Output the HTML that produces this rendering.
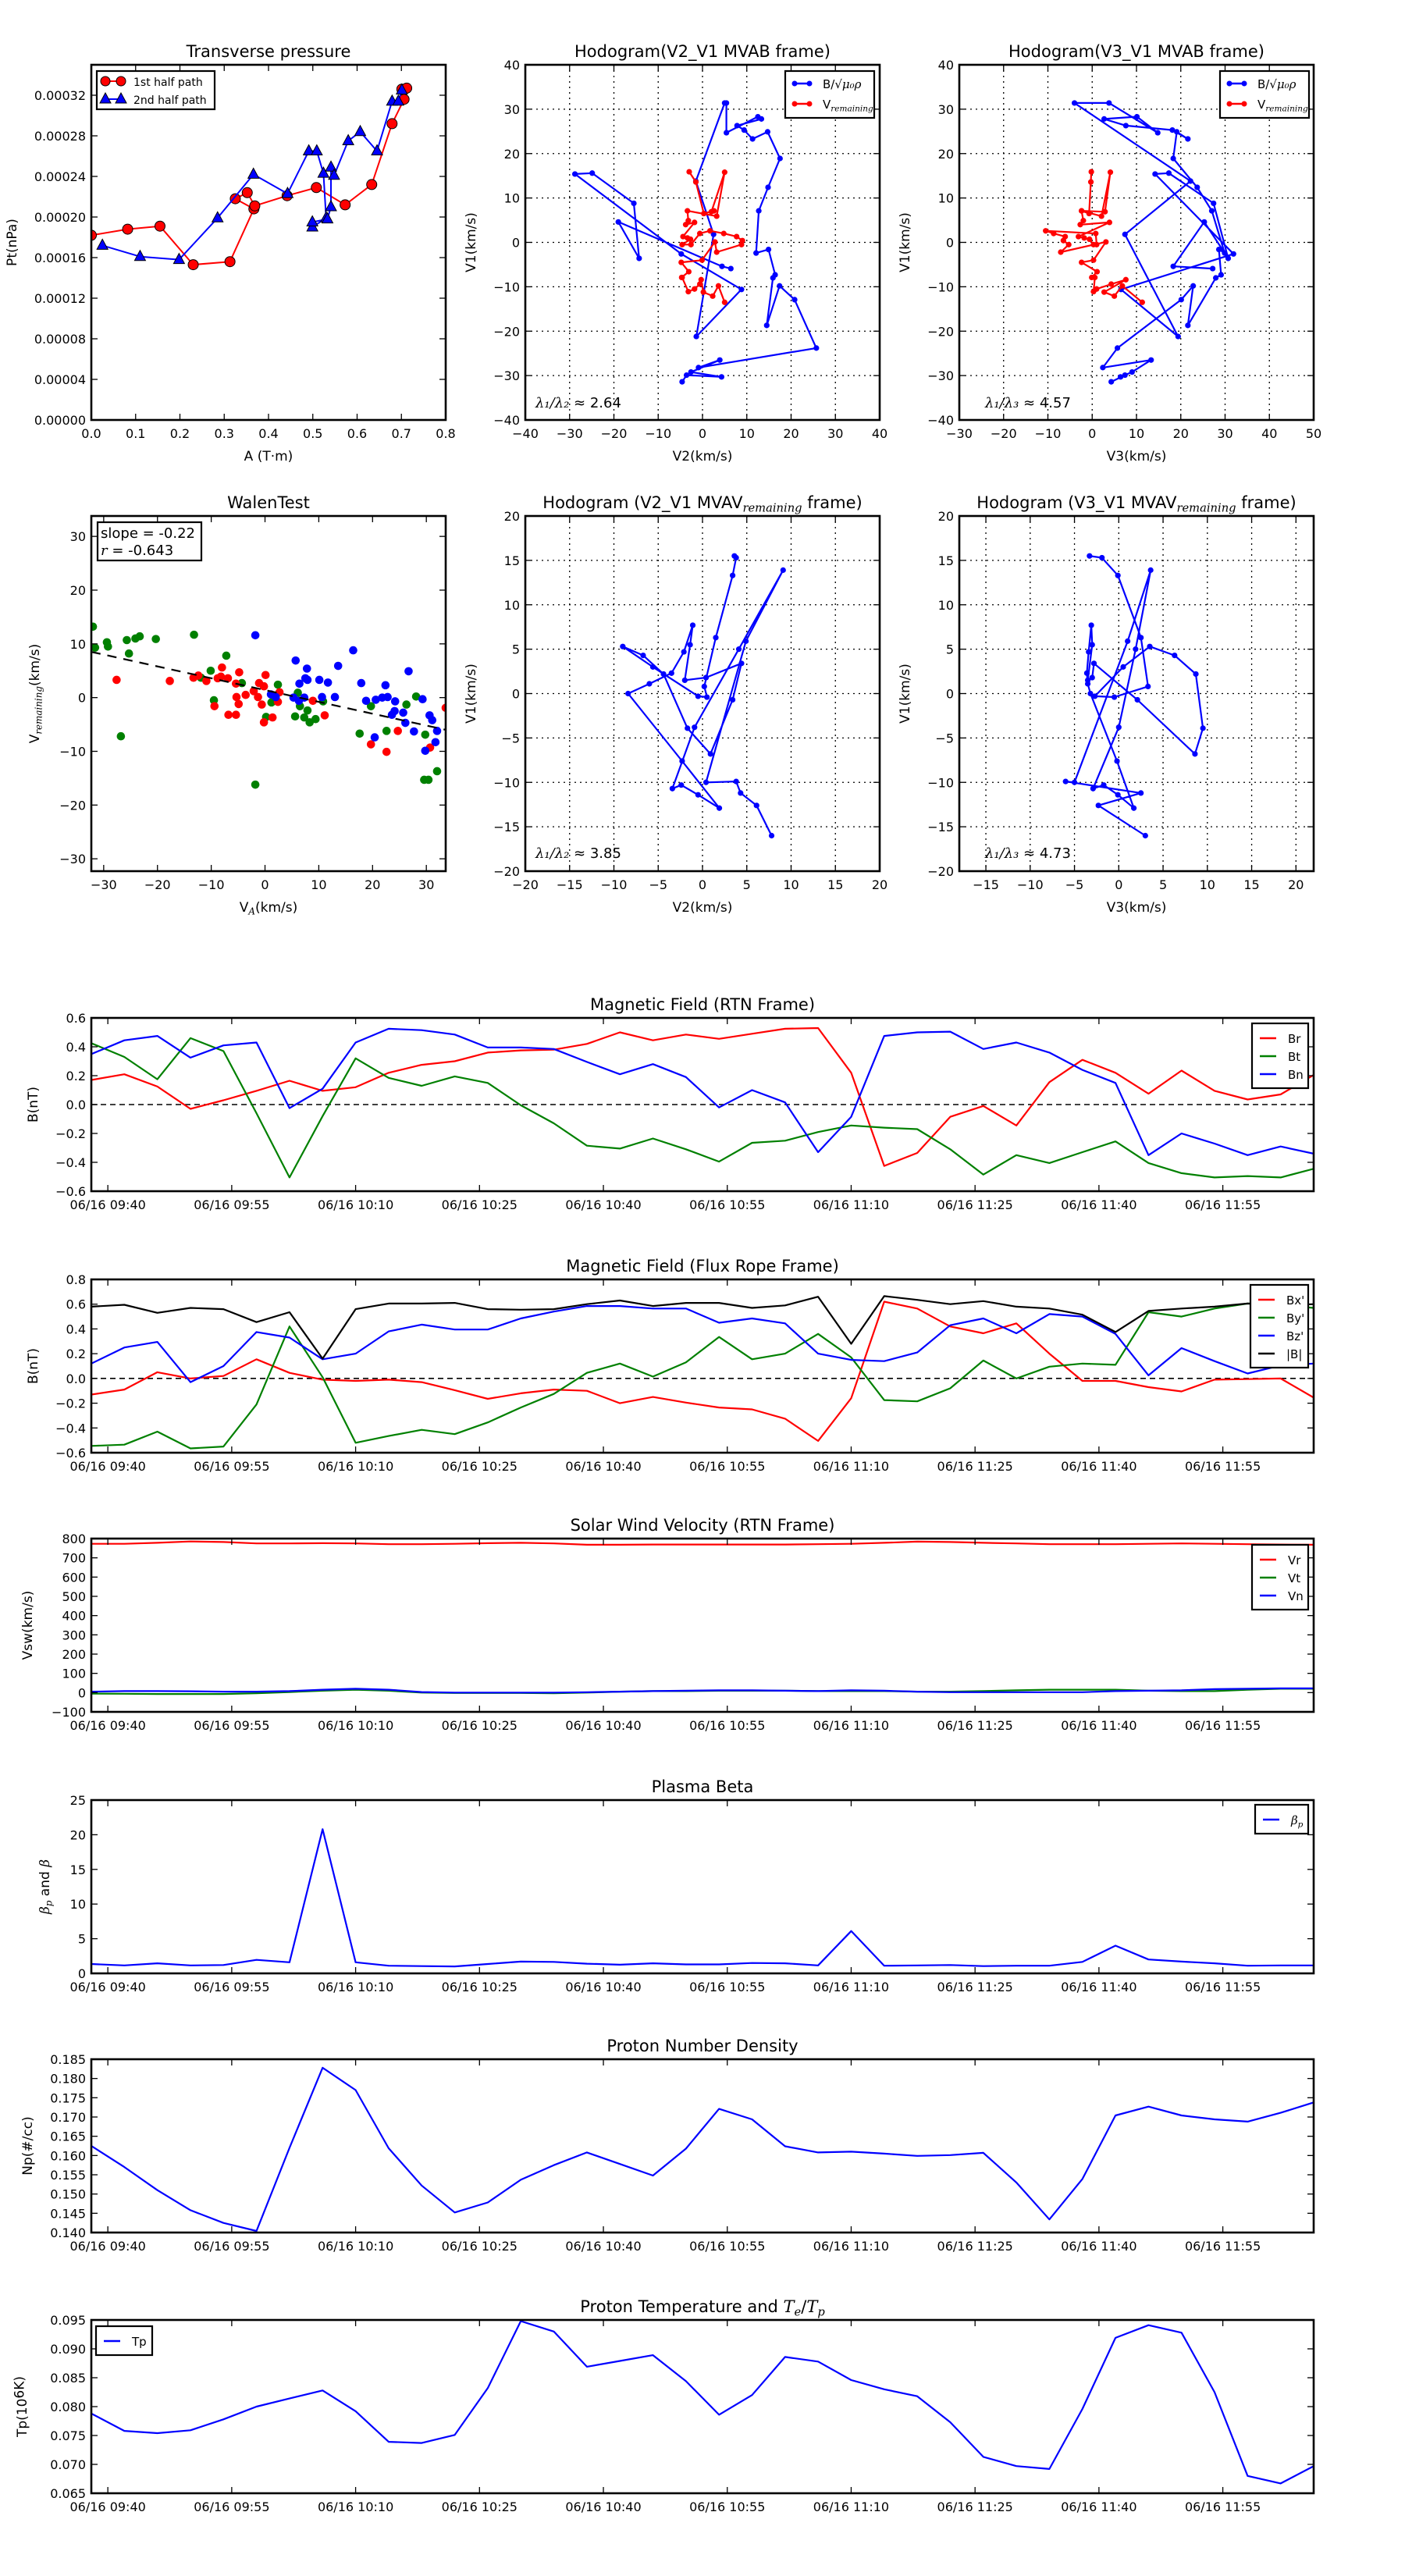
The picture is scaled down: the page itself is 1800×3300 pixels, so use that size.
<!DOCTYPE html>
<html><head><meta charset="utf-8"><title>Flux rope analysis</title>
<style>html,body{margin:0;padding:0;background:#fff}svg{display:block;font-family:"DejaVu Sans","Liberation Sans",sans-serif}</style>
</head><body>
<svg id="chart" xmlns="http://www.w3.org/2000/svg" width="1800" height="3300" viewBox="0 0 1800 3300"></svg>
<script>
// ---------- data ----------
const presRedA=[0.000,0.082,0.155,0.230,0.313,0.367,0.325,0.352,0.369,0.442,0.508,0.573,0.633,0.679,0.706,0.701,0.712];
const presRedP=[0.000182,0.000188,0.000191,0.000153,0.000156,0.000208,0.000218,0.000224,0.000211,0.000221,0.000229,0.000212,0.000232,0.000292,0.000316,0.000326,0.000327];
const presBlueA=[0.025,0.110,0.198,0.285,0.366,0.443,0.491,0.509,0.524,0.530,0.499,0.499,0.533,0.541,0.541,0.548,0.580,0.607,0.645,0.679,0.693,0.701];
const presBlueP=[0.000172,0.000161,0.000158,0.000199,0.000242,0.000223,0.000265,0.000265,0.000243,0.000199,0.000190,0.000195,0.000198,0.000210,0.000249,0.000241,0.000275,0.000284,0.000265,0.000314,0.000314,0.000325];
const hbV2=[-4.6,-3.6,4.3,-2.6,3.9,-0.9,25.7,20.8,17.4,14.5,15.9,16.4,14.9,12.1,12.7,14.8,17.5,14.7,11.3,9.4,7.8,13.3,12.5,5.4,5.4,5.0,-1.5,2.5,-1.4,8.8,-4.8,-28.8,-24.9,-15.5,-14.3,-19.0,4.4,6.4];
const hbV3=[4.3,7.4,6.4,9.0,13.3,2.4,5.7,20.1,22.8,21.6,27.9,29.1,28.6,29.9,27.0,23.7,18.3,19.1,21.6,18.1,7.6,2.7,10.1,14.8,3.8,-4.0,22.2,7.4,19.4,6.5,31.9,14.2,17.3,27.4,30.7,25.3,18.3,27.2];
const hbV1=[-31.4,-29.9,-30.3,-29.2,-26.5,-28.2,-23.8,-12.9,-9.8,-18.7,-8.0,-7.3,-1.6,-2.4,7.1,12.4,18.9,24.9,23.3,25.3,26.3,27.8,28.3,24.7,31.4,31.4,13.8,1.8,-21.2,-10.6,-2.6,15.4,15.6,8.8,-3.6,4.6,-5.4,-5.9];
const hrV2=[-3.0,-1.5,0.3,2.6,2.0,5.0,3.2,-3.4,-3.2,-3.8,-1.8,-4.4,-3.4,-2.7,-4.6,-2.6,-0.6,1.7,4.8,7.7,9.0,8.8,3.2,2.8,-0.1,-4.8,-3.1,-4.7,-4.6,-3.2,-1.8,-0.6,-0.3,0.2,2.3,3.6,5.0];
const hrV3=[-0.2,-0.3,-0.7,-2.4,2.9,4.1,2.1,-2.4,-2.0,-2.7,3.9,-3.1,-1.8,-0.6,0.3,1.0,0.8,-10.5,-8.7,-6.1,-6.5,-5.3,-7.1,3.1,0.3,-2.4,1.1,-0.1,0.6,0.3,1.0,4.3,7.6,2.7,5.0,6.8,11.3];
const hrV1=[15.9,13.6,6.5,7.1,6.9,15.8,5.9,7.1,4.9,4.0,4.5,1.3,1.0,0.7,-0.5,-0.5,2.0,2.6,2.0,1.3,0.4,-0.5,-2.2,0.1,-4.0,-4.5,-6.6,-7.9,-7.9,-11.1,-10.5,-9.4,-8.4,-11.2,-12.1,-9.8,-13.5];
const hvV2=[3.6,3.8,3.4,1.5,0.2,0.5,-0.5,-5.6,-9.0,-6.7,-4.4,-1.7,0.9,3.4,4.4,0.4,-2.0,-1.4,-1.1,-2.1,-3.5,-6.0,-8.4,-2.3,1.9,-0.5,-2.4,-3.4,-0.9,4.1,9.1,4.9,0.4,3.8,4.3,6.1,7.8];
const hvV3=[-3.3,-1.9,-0.1,2.5,3.3,-0.5,-2.7,0.5,3.5,6.3,8.7,9.5,8.6,2.1,-2.8,-3.0,-3.5,-3.0,-3.1,-3.4,-3.6,-3.5,-3.2,-0.2,1.7,-0.1,-1.7,-2.9,0.0,1.9,3.6,1.0,-5.0,-6.0,2.5,-2.3,3.0];
const hvV1=[15.5,15.3,13.3,6.3,0.8,-0.4,-0.3,3.0,5.3,4.3,2.2,-3.9,-6.8,-0.7,3.4,1.8,1.5,5.5,7.7,4.7,2.3,1.1,0.0,-7.6,-12.9,-11.4,-10.3,-10.7,-3.8,5.0,13.9,5.9,-10.0,-9.9,-11.2,-12.6,-16.0];
const walGreenX=[-32.0,-31.6,-29.4,-29.2,-25.7,-25.3,-24.1,-23.3,-20.3,-13.2,-26.8,-7.2,-10.1,-11.9,-9.5,-4.3,-1.8,2.4,1.2,0.2,6.1,6.5,5.6,7.3,7.9,8.3,9.4,10.8,17.6,19.7,22.6,26.3,28.1,29.8,29.6,30.4,32.0];
const walGreenY=[13.2,9.3,10.3,9.5,10.7,8.2,11.0,11.4,10.9,11.7,-7.2,7.8,5.0,3.7,-0.5,2.7,-16.2,2.4,-0.9,-3.6,0.9,-1.6,-3.5,-3.7,-2.4,-4.6,-4.0,-0.7,-6.7,-1.6,-6.2,-1.3,0.2,-6.9,-15.3,-15.3,-13.7];
const walRedX=[-27.6,-17.7,-13.3,-12.4,-10.9,-8.8,-8.0,-8.2,-6.9,-4.8,-5.4,-5.3,-4.9,-3.6,-6.8,-5.4,-9.4,-2.1,-1.1,-1.3,-0.6,-0.2,0.1,-0.2,1.4,2.4,2.7,8.9,11.1,19.7,22.6,24.7,30.7,33.6];
const walRedY=[3.3,3.1,3.7,4.1,3.1,3.6,5.6,3.9,3.6,4.7,2.6,0.1,-1.2,0.5,-3.2,-3.2,-1.6,1.2,2.7,0.1,-1.3,-4.6,4.2,2.1,-3.7,-0.8,1.0,-0.6,-3.3,-8.7,-10.1,-6.2,-9.3,-1.9];
const walBlueX=[-1.8,1.1,2.0,5.7,6.4,7.5,7.9,7.8,5.3,6.3,7.3,10.1,10.6,11.7,13.0,13.6,16.4,17.9,18.8,20.4,20.6,21.8,22.4,22.8,23.6,24.1,24.2,25.7,26.1,26.7,27.7,29.3,29.8,30.6,31.1,31.7,32.0];
const walBlueY=[11.6,0.6,0.1,6.9,2.6,3.6,3.3,5.4,0.0,-0.6,0.0,3.3,0.1,2.8,0.1,5.9,8.8,2.7,-0.6,-7.4,-0.4,0.0,2.3,0.1,-3.2,-2.5,-0.7,-2.8,-4.7,4.9,-6.3,-0.3,-9.9,-3.3,-4.2,-8.3,-6.2];
const walSlope=-0.22, walIntercept=1.4;
const tMin=[0,4,8,12,16,20,24,28,32,36,40,44,48,52,56,60,64,68,72,76,80,84,88,92,96,100,104,108,112,116,120,124,128,132,136,140,144,148];
const timeTickMin=[2,17,32,47,62,77,92,107,122,137];
const timeTickLabels=['06/16 09:40','06/16 09:55','06/16 10:10','06/16 10:25','06/16 10:40','06/16 10:55','06/16 11:10','06/16 11:25','06/16 11:40','06/16 11:55'];
const Br=[0.17,0.21,0.125,-0.03,0.03,0.095,0.165,0.095,0.12,0.22,0.275,0.30,0.36,0.375,0.38,0.42,0.50,0.445,0.485,0.455,0.49,0.525,0.53,0.22,-0.425,-0.335,-0.085,-0.01,-0.145,0.155,0.31,0.22,0.075,0.235,0.095,0.035,0.07,0.205];
const Bt=[0.425,0.33,0.175,0.46,0.37,-0.06,-0.505,-0.08,0.32,0.185,0.13,0.195,0.15,-0.005,-0.13,-0.285,-0.305,-0.235,-0.31,-0.395,-0.265,-0.25,-0.19,-0.145,-0.16,-0.17,-0.31,-0.485,-0.35,-0.405,-0.33,-0.255,-0.405,-0.475,-0.505,-0.495,-0.505,-0.445];
const Bn=[0.35,0.445,0.475,0.325,0.41,0.43,-0.025,0.11,0.43,0.525,0.515,0.485,0.395,0.395,0.385,0.295,0.21,0.28,0.19,-0.02,0.10,0.015,-0.33,-0.085,0.475,0.50,0.505,0.385,0.43,0.36,0.24,0.15,-0.35,-0.2,-0.27,-0.35,-0.29,-0.34];
const Bxp=[-0.13,-0.09,0.05,0.0,0.02,0.155,0.045,-0.01,-0.02,-0.01,-0.03,-0.095,-0.165,-0.12,-0.09,-0.1,-0.2,-0.15,-0.195,-0.235,-0.25,-0.325,-0.505,-0.16,0.62,0.565,0.42,0.365,0.445,0.2,-0.02,-0.02,-0.07,-0.105,-0.01,-0.005,0.0,-0.155];
const Byp=[-0.545,-0.535,-0.43,-0.565,-0.55,-0.21,0.42,0.01,-0.52,-0.465,-0.415,-0.45,-0.355,-0.235,-0.125,0.045,0.12,0.015,0.13,0.335,0.155,0.2,0.36,0.17,-0.175,-0.185,-0.08,0.145,0.0,0.095,0.12,0.11,0.535,0.5,0.565,0.605,0.595,0.57];
const Bzp=[0.12,0.25,0.295,-0.03,0.1,0.375,0.33,0.155,0.2,0.38,0.435,0.395,0.395,0.485,0.54,0.585,0.585,0.565,0.565,0.45,0.485,0.445,0.2,0.15,0.14,0.21,0.43,0.485,0.365,0.52,0.5,0.36,0.025,0.245,0.14,0.04,0.105,0.12];
const Bmag=[0.58,0.595,0.53,0.57,0.56,0.455,0.535,0.16,0.56,0.605,0.605,0.61,0.56,0.555,0.56,0.6,0.63,0.585,0.61,0.61,0.57,0.59,0.66,0.28,0.665,0.635,0.6,0.625,0.58,0.565,0.515,0.375,0.545,0.565,0.58,0.605,0.59,0.6];
const Vr=[773,773,778,785,782,775,775,776,775,771,771,773,776,778,775,768,768,769,769,769,769,769,771,773,778,784,782,778,775,771,771,771,773,775,773,771,769,768];
const Vt=[-5,-6,-7,-7,-7,-3,3,10,15,10,0,-2,-2,-2,-3,0,5,8,8,10,10,10,8,8,8,5,5,8,12,15,15,15,10,8,8,15,20,20];
const Vn=[5,8,8,7,5,5,8,15,20,15,3,0,0,0,0,2,5,8,10,12,12,10,8,12,10,5,2,2,2,2,2,8,10,12,18,20,22,22];
const betaP=[1.35,1.15,1.45,1.15,1.2,1.95,1.6,20.8,1.6,1.1,1.05,1.0,1.35,1.7,1.65,1.4,1.25,1.45,1.3,1.3,1.5,1.45,1.15,6.1,1.1,1.15,1.2,1.05,1.1,1.1,1.65,4.0,2.0,1.7,1.45,1.1,1.15,1.15];
const Np=[0.1625,0.157,0.151,0.1458,0.1425,0.1404,0.162,0.1828,0.177,0.1619,0.1522,0.1452,0.1478,0.1537,0.1575,0.1608,0.1578,0.1548,0.1618,0.1721,0.1694,0.1624,0.1608,0.161,0.1605,0.1599,0.1601,0.1607,0.153,0.1434,0.1539,0.1704,0.1727,0.1704,0.1694,0.1688,0.1711,0.1738];
const Tp=[0.0788,0.0758,0.0754,0.0759,0.0778,0.0800,0.0814,0.0828,0.0792,0.0739,0.0737,0.0751,0.0832,0.0948,0.0930,0.0869,0.0879,0.0889,0.0844,0.0786,0.0820,0.0886,0.0878,0.0846,0.0830,0.0818,0.0773,0.0713,0.0697,0.0692,0.0796,0.0919,0.0941,0.0928,0.0825,0.0680,0.0667,0.0697];

// ---------- helpers ----------
const NS='http://www.w3.org/2000/svg';
const svg=document.getElementById('chart');
function mk(tag,attrs,parent,name){
  const el=document.createElementNS(NS,tag);
  for(const k in attrs) el.setAttribute(k,attrs[k]);
  
  
  parent.appendChild(el);
  return el;
}
function txt(parent,x,y,parts,size,anchor,name,rot){
  const t=mk('text',{x:x,y:y,'font-size':size,'text-anchor':anchor||'middle',fill:'#000'},parent,name);
  if(rot) t.setAttribute('transform','rotate(-90 '+x+' '+y+')');
  (Array.isArray(parts)?parts:[[parts,'n']]).forEach(p=>{
    const s=document.createElementNS(NS,'tspan');
    s.textContent=p[0];
    if(p[1]==='sub'){s.setAttribute('font-family','"DejaVu Serif","Liberation Serif",serif');s.setAttribute('font-style','italic');s.setAttribute('font-size',size*0.7);s.setAttribute('dy',size*0.22);}
    else if(p[1]==='it'){s.setAttribute('font-family','"DejaVu Serif","Liberation Serif",serif');s.setAttribute('font-style','italic');}
    else if(p[1]==='up'){s.setAttribute('dy',-size*0.22);}
    t.appendChild(s);
  });
  return t;
}
const minus=s=>s.replace('-','\u2212');
let clipId=0;
function axes(c){
  const g=mk('g',{},svg,c.name);
  const sx=v=>c.x+(v-c.x0)/(c.x1-c.x0)*c.w;
  const sy=v=>c.y+c.h-(v-c.y0)/(c.y1-c.y0)*c.h;
  const cid='clip'+(clipId++);
  const cp=mk('clipPath',{id:cid},g,'clip-region');
  mk('rect',{x:c.x,y:c.y,width:c.w,height:c.h},cp,'clip-rect');
  if(c.grid){
    c.xt.forEach(v=>mk('line',{x1:sx(v),x2:sx(v),y1:c.y,y2:c.y+c.h,stroke:'#000','stroke-width':1.3,'stroke-dasharray':'2,5'},g,'x-grid-line'));
    c.yt.forEach(v=>mk('line',{x1:c.x,x2:c.x+c.w,y1:sy(v),y2:sy(v),stroke:'#000','stroke-width':1.3,'stroke-dasharray':'2,5'},g,'y-grid-line'));
  }
  const data=mk('g',{'clip-path':'url(#'+cid+')'},g,'plot-area');
  c.xt.forEach((v,i)=>{
    const X=sx(v);
    mk('line',{x1:X,x2:X,y1:c.y+c.h,y2:c.y+c.h-8,stroke:'#000','stroke-width':1.3},g,'x-tick');
    mk('line',{x1:X,x2:X,y1:c.y,y2:c.y+8,stroke:'#000','stroke-width':1.3},g,'x-tick');
    txt(g,X,c.y+c.h+23,c.xl?c.xl[i]:minus(c.xf(v)),16,'middle','x-tick-label');
  });
  c.yt.forEach(v=>{
    const Y=sy(v);
    mk('line',{x1:c.x,x2:c.x+8,y1:Y,y2:Y,stroke:'#000','stroke-width':1.3},g,'y-tick');
    mk('line',{x1:c.x+c.w,x2:c.x+c.w-8,y1:Y,y2:Y,stroke:'#000','stroke-width':1.3},g,'y-tick');
    txt(g,c.x-7,Y+6,minus(c.yf(v)),16,'end','y-tick-label');
  });
  txt(g,c.x+c.w/2,c.y-10,c.title,21,'middle','chart-title');
  if(c.xlabel) txt(g,c.x+c.w/2,c.y+c.h+52,c.xlabel,17,'middle','x-axis-title');
  if(c.ylabel) txt(g,c.x-c.ylx,c.y+c.h/2,c.ylabel,17,'middle','y-axis-title',true);
  return {g,data,sx,sy,c,frame(){mk('rect',{x:c.x,y:c.y,width:c.w,height:c.h,fill:'none',stroke:'#000','stroke-width':2.6},g,'axes-frame');}};
}
function line(ax,xs,ys,color,w,name){
  const d=xs.map((v,i)=>(i?'L':'M')+ax.sx(v).toFixed(1)+','+ax.sy(ys[i]).toFixed(1)).join('');
  return mk('path',{d:d,fill:'none',stroke:color,'stroke-width':w,'stroke-linejoin':'round'},ax.data,name);
}
function dots(ax,xs,ys,color,r,name){
  xs.forEach((v,i)=>mk('circle',{cx:ax.sx(v),cy:ax.sy(ys[i]),r:r,fill:color},ax.data,name));
}
function legend(g,x,y,w,h,entries,name){
  const lg=mk('g',{},g,name);
  mk('rect',{x:x,y:y,width:w,height:h,fill:'#fff',stroke:'#000','stroke-width':2.2},lg,'legend-box');
  entries.forEach(e=>{
    mk('line',{x1:e.lx1,x2:e.lx2,y1:e.y,y2:e.y,stroke:e.c,'stroke-width':2.5},lg,'legend-swatch');
    if(e.dot){mk('circle',{cx:e.lx1,cy:e.y,r:3.5,fill:e.c},lg,'legend-marker');mk('circle',{cx:e.lx2,cy:e.y,r:3.5,fill:e.c},lg,'legend-marker');}
    txt(lg,e.tx,e.y+6,e.label,e.fs||16,'start','legend-label');
  });
}
const range=(a,b,s)=>{const r=[];for(let v=a;v<=b+1e-9;v+=s)r.push(+v.toFixed(6));return r;};

// ---------- row 1 ----------
const COLX=[117,673,1229], W=454, H=455;
const pa=axes({name:'transverse-pressure-chart',x:COLX[0],y:83,w:W,h:H,x0:0,x1:0.8,y0:0,y1:0.00035,xt:range(0,0.8,0.1),yt:range(0,0.00032,0.00004),xf:v=>v.toFixed(1),yf:v=>v.toFixed(5),title:'Transverse pressure',xlabel:'A (T\u00b7m)',ylabel:'Pt(nPa)',ylx:96});
line(pa,presRedA,presRedP,'#f00',2,'first-half-line');
presRedA.forEach((v,i)=>mk('circle',{cx:pa.sx(v),cy:pa.sy(presRedP[i]),r:6.5,fill:'#f00',stroke:'#000','stroke-width':1},pa.data,'first-half-marker'));
line(pa,presBlueA,presBlueP,'#00f',2,'second-half-line');
presBlueA.forEach((v,i)=>{const X=pa.sx(v),Y=pa.sy(presBlueP[i]);mk('polygon',{points:(X)+','+(Y-8)+' '+(X-7)+','+(Y+5)+' '+(X+7)+','+(Y+5),fill:'#00f',stroke:'#000','stroke-width':1},pa.data,'second-half-marker');});
pa.frame();
{const lg=mk('g',{},pa.g,'pressure-legend');
mk('rect',{x:124,y:91,width:151,height:49,fill:'#fff',stroke:'#000','stroke-width':2.2},lg,'legend-box');
mk('line',{x1:135,x2:155,y1:104,y2:104,stroke:'#f00','stroke-width':2},lg,'legend-swatch');
mk('circle',{cx:135,cy:104,r:6,fill:'#f00',stroke:'#000'},lg,'legend-marker');mk('circle',{cx:155,cy:104,r:6,fill:'#f00',stroke:'#000'},lg,'legend-marker');
mk('line',{x1:135,x2:155,y1:127,y2:127,stroke:'#00f','stroke-width':2},lg,'legend-swatch');
mk('polygon',{points:'135,119 128,132 142,132',fill:'#00f',stroke:'#000'},lg,'legend-marker');mk('polygon',{points:'155,119 148,132 162,132',fill:'#00f',stroke:'#000'},lg,'legend-marker');
txt(lg,171,110,'1st half path',14,'start','legend-label');txt(lg,171,133,'2nd half path',14,'start','legend-label');}

const legHodo=(ax,x)=>legend(ax.g,x,91,114,60,[{lx1:x+12,lx2:x+31,y:107,c:'#00f',dot:true,tx:x+48,label:[['B/\u221a','n'],['\u03bc\u2080\u03c1','it']],fs:15},{lx1:x+12,lx2:x+31,y:133,c:'#f00',dot:true,tx:x+48,label:[['V','n'],['remaining','sub']],fs:15}],'hodogram-legend');
const h1=axes({name:'hodogram-v2-v1-mvab',x:COLX[1],y:83,w:W,h:H,x0:-40,x1:40,y0:-40,y1:40,xt:range(-40,40,10),yt:range(-40,40,10),xf:v=>String(v),yf:v=>String(v),grid:true,title:'Hodogram(V2_V1 MVAB frame)',xlabel:'V2(km/s)',ylabel:'V1(km/s)',ylx:64});
line(h1,hbV2,hbV1,'#00f',2.2,'b-alfven-path');dots(h1,hbV2,hbV1,'#00f',3.6,'b-alfven-point');
line(h1,hrV2,hrV1,'#f00',2.2,'v-remaining-path');dots(h1,hrV2,hrV1,'#f00',3.6,'v-remaining-point');
h1.frame();legHodo(h1,1006);
txt(h1.g,686,522,[['\u03bb\u2081/\u03bb\u2082','it'],[' \u2248 2.64','n']],18,'start','eigenvalue-ratio');
const h2=axes({name:'hodogram-v3-v1-mvab',x:COLX[2],y:83,w:W,h:H,x0:-30,x1:50,y0:-40,y1:40,xt:range(-30,50,10),yt:range(-40,40,10),xf:v=>String(v),yf:v=>String(v),grid:true,title:'Hodogram(V3_V1 MVAB frame)',xlabel:'V3(km/s)',ylabel:'V1(km/s)',ylx:64});
line(h2,hbV3,hbV1,'#00f',2.2,'b-alfven-path');dots(h2,hbV3,hbV1,'#00f',3.6,'b-alfven-point');
line(h2,hrV3,hrV1,'#f00',2.2,'v-remaining-path');dots(h2,hrV3,hrV1,'#f00',3.6,'v-remaining-point');
h2.frame();legHodo(h2,1563);
txt(h2.g,1262,522,[['\u03bb\u2081/\u03bb\u2083','it'],[' \u2248 4.57','n']],18,'start','eigenvalue-ratio');

// ---------- row 2 ----------
const wa=axes({name:'walen-test-chart',x:COLX[0],y:661,w:W,h:H,x0:-32.3,x1:33.6,y0:-32.3,y1:33.8,xt:range(-30,30,10),yt:range(-30,30,10),xf:v=>String(v),yf:v=>String(v),title:'WalenTest',xlabel:[['V','n'],['A','sub'],['(km/s)','up']],ylabel:[['V','n'],['remaining','sub'],['(km/s)','up']],ylx:67});
dots(wa,walGreenX,walGreenY,'#008000',5.3,'walen-point-green');
dots(wa,walRedX,walRedY,'#f00',5.3,'walen-point-red');
dots(wa,walBlueX,walBlueY,'#00f',5.3,'walen-point-blue');
{const fx=[-32.3,33.6];line(wa,fx,fx.map(v=>walSlope*v+walIntercept),'#000',2.2,'walen-fit-line').setAttribute('stroke-dasharray','12,9');}
wa.frame();
mk('rect',{x:125,y:669,width:133,height:49,fill:'#fff',stroke:'#000','stroke-width':2.2},wa.g,'walen-stats-box');
txt(wa.g,129,689,'slope = -0.22',18,'start','walen-slope');
txt(wa.g,129,711,[['r','it'],[' = -0.643','n']],18,'start','walen-r');
const h3=axes({name:'hodogram-v2-v1-mvav',x:COLX[1],y:661,w:W,h:H,x0:-20,x1:20,y0:-20,y1:20,xt:range(-20,20,5),yt:range(-20,20,5),xf:v=>String(v),yf:v=>String(v),grid:true,title:[['Hodogram (V2_V1 MVAV','n'],['remaining','sub'],[' frame)','up']],xlabel:'V2(km/s)',ylabel:'V1(km/s)',ylx:64});
line(h3,hvV2,hvV1,'#00f',2.2,'v-path');dots(h3,hvV2,hvV1,'#00f',3.6,'v-point');h3.frame();
txt(h3.g,686,1099,[['\u03bb\u2081/\u03bb\u2082','it'],[' \u2248 3.85','n']],18,'start','eigenvalue-ratio');
const h4=axes({name:'hodogram-v3-v1-mvav',x:COLX[2],y:661,w:W,h:H,x0:-18,x1:22,y0:-20,y1:20,xt:range(-15,20,5),yt:range(-20,20,5),xf:v=>String(v),yf:v=>String(v),grid:true,title:[['Hodogram (V3_V1 MVAV','n'],['remaining','sub'],[' frame)','up']],xlabel:'V3(km/s)',ylabel:'V1(km/s)',ylx:64});
line(h4,hvV3,hvV1,'#00f',2.2,'v-path');dots(h4,hvV3,hvV1,'#00f',3.6,'v-point');h4.frame();
txt(h4.g,1262,1099,[['\u03bb\u2081/\u03bb\u2083','it'],[' \u2248 4.73','n']],18,'start','eigenvalue-ratio');

// ---------- time series ----------
function ts(name,y,y0,y1,yt,yf,title,ylabel,ylx){
  return axes({name:name,x:117,y:y,w:1566,h:222,x0:0,x1:148,y0:y0,y1:y1,xt:timeTickMin,xl:timeTickLabels,yt:yt,yf:yf,title:title,ylabel:ylabel,ylx:ylx});
}
function zero(ax){mk('line',{x1:ax.c.x,x2:ax.c.x+ax.c.w,y1:ax.sy(0),y2:ax.sy(0),stroke:'#000','stroke-width':1.6,'stroke-dasharray':'7,5'},ax.data,'zero-line');}
const legTS=(ax,x,y,w,items,name)=>legend(ax.g,x,y,w,14+items.length*23,items.map((it,i)=>({lx1:x+10,lx2:x+31,y:y+19+i*23,c:it[1],tx:x+46,label:it[0],fs:15})),name);
const t1=ts('magnetic-field-rtn-chart',1304,-0.6,0.6,range(-0.6,0.6,0.2),v=>v.toFixed(1),'Magnetic Field (RTN Frame)','B(nT)',69);
zero(t1);line(t1,tMin,Br,'#f00',2.2,'br-line');line(t1,tMin,Bt,'#008000',2.2,'bt-line');line(t1,tMin,Bn,'#00f',2.2,'bn-line');t1.frame();
legTS(t1,1604,1311,72,[['Br','#f00'],['Bt','#008000'],['Bn','#00f']],'rtn-legend');
const t2=ts('magnetic-field-flux-rope-chart',1639,-0.6,0.8,range(-0.6,0.8,0.2),v=>v.toFixed(1),'Magnetic Field (Flux Rope Frame)','B(nT)',69);
zero(t2);line(t2,tMin,Bxp,'#f00',2.2,'bx-line');line(t2,tMin,Byp,'#008000',2.2,'by-line');line(t2,tMin,Bzp,'#00f',2.2,'bz-line');line(t2,tMin,Bmag,'#000',2.2,'b-magnitude-line');t2.frame();
legTS(t2,1602,1646,74,[["Bx'",'#f00'],["By'",'#008000'],["Bz'",'#00f'],['|B|','#000']],'flux-rope-legend');
const t3=ts('solar-wind-velocity-chart',1971,-100,800,range(-100,800,100),v=>String(v),'Solar Wind Velocity (RTN Frame)','Vsw(km/s)',76);
line(t3,tMin,Vr,'#f00',2.2,'vr-line');line(t3,tMin,Vt,'#008000',2.2,'vt-line');line(t3,tMin,Vn,'#00f',2.2,'vn-line');t3.frame();
legTS(t3,1604,1979,72,[['Vr','#f00'],['Vt','#008000'],['Vn','#00f']],'velocity-legend');
const t4=ts('plasma-beta-chart',2306,0,25,range(0,25,5),v=>String(v),'Plasma Beta',[['\u03b2','it'],['p','sub'],[' and ','up'],['\u03b2','it']],54);
line(t4,tMin,betaP,'#00f',2.2,'beta-line');t4.frame();
legTS(t4,1608,2312,68,[[[['\u03b2','it'],['p','sub']],'#00f']],'beta-legend');
const t5=ts('proton-density-chart',2638,0.140,0.185,range(0.140,0.185,0.005),v=>v.toFixed(3),'Proton Number Density','Np(#/cc)',76);
line(t5,tMin,Np,'#00f',2.2,'density-line');t5.frame();
const t6=ts('proton-temperature-chart',2972,0.065,0.095,range(0.065,0.095,0.005),v=>v.toFixed(3),[['Proton Temperature and ','n'],['T','it'],['e','sub'],['/','up'],['T','it'],['p','sub']],[['Tp(10','n'],['6','up'],['K)','n']],83);
line(t6,tMin,Tp,'#00f',2.2,'temperature-line');t6.frame();
legTS(t6,123,2980,72,[['Tp','#00f']],'temperature-legend');
</script>
</body></html>
